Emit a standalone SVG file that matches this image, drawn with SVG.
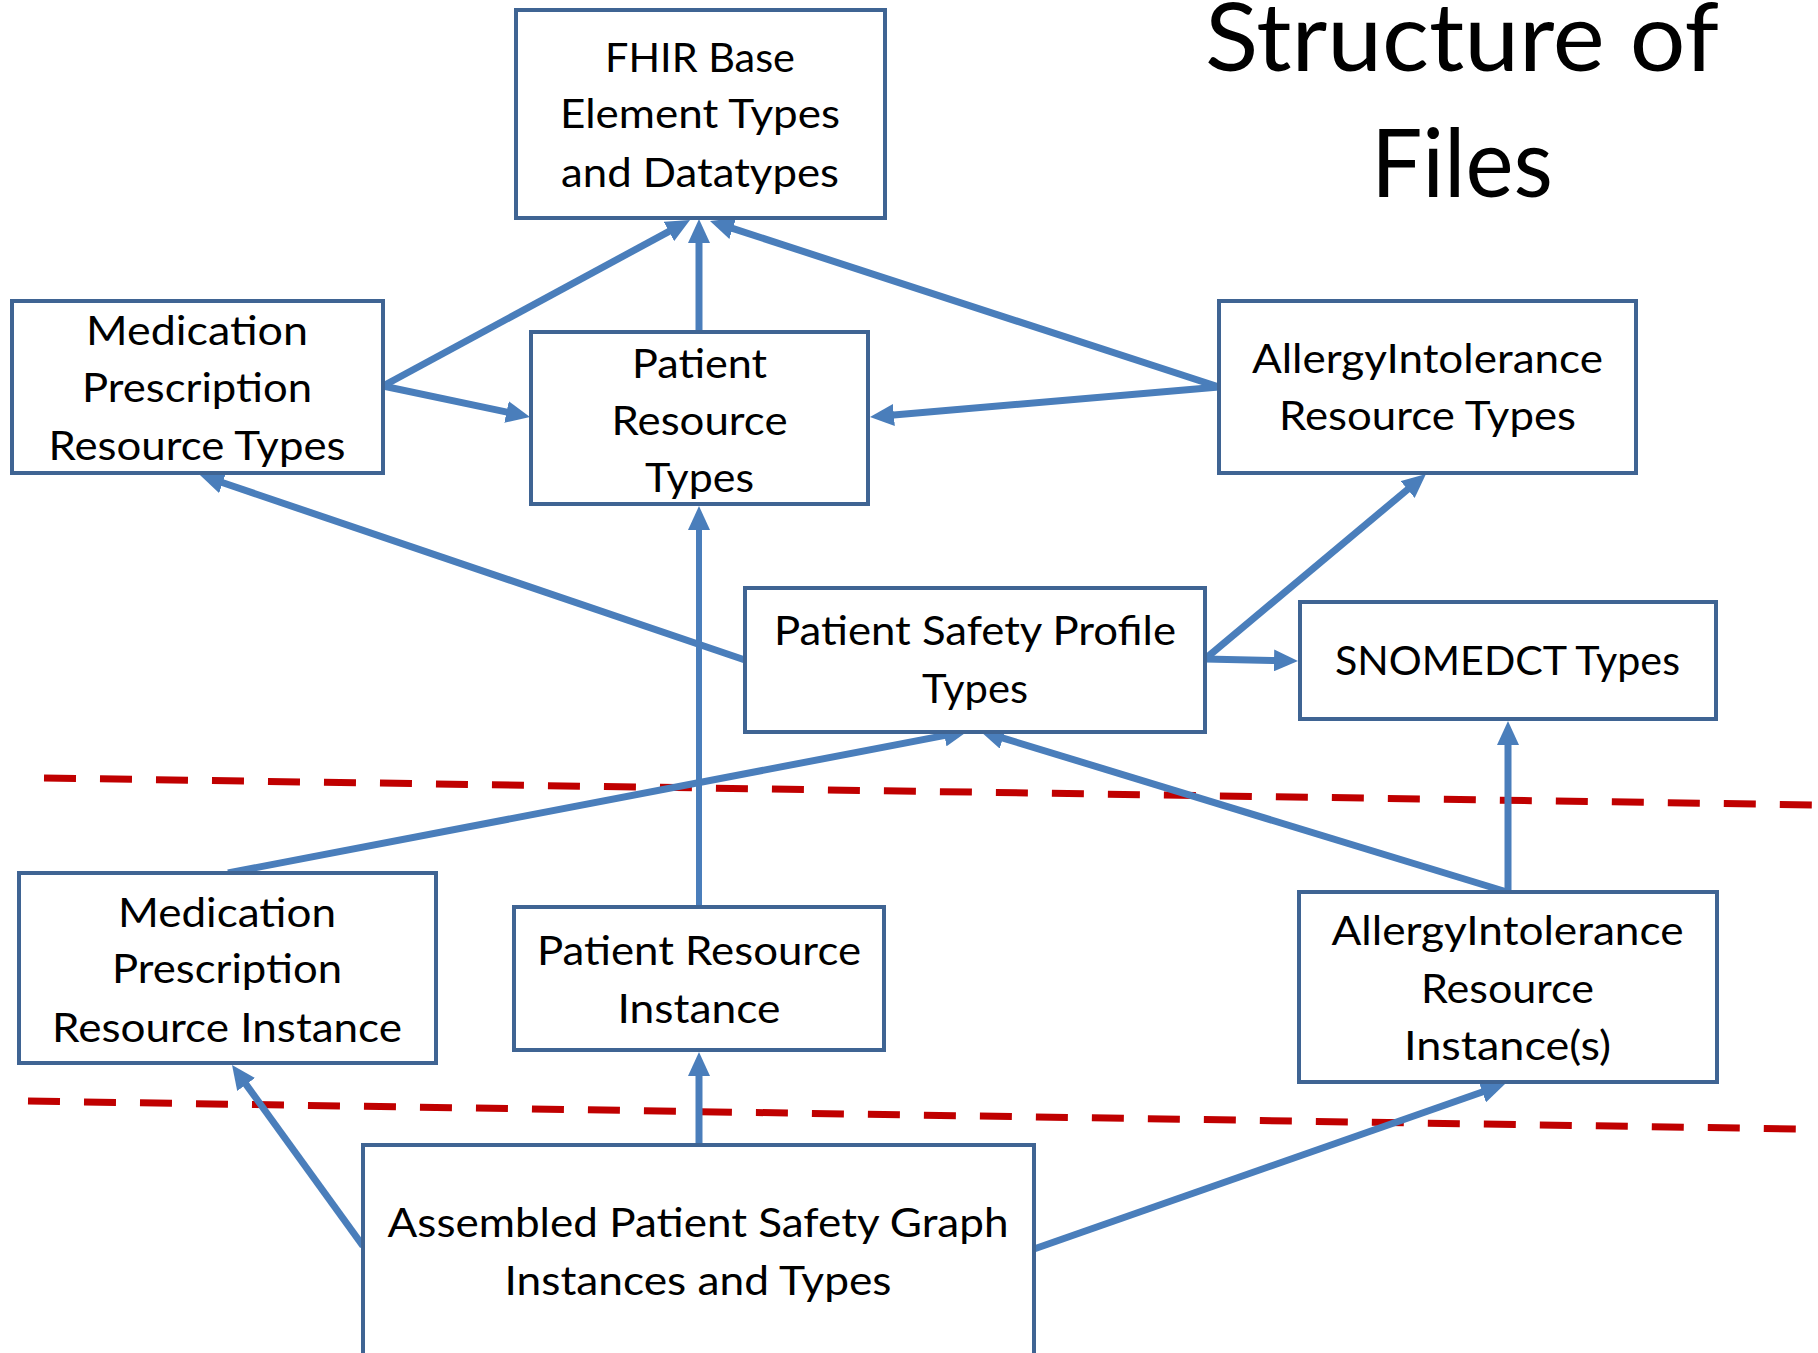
<svg xmlns="http://www.w3.org/2000/svg" width="1818" height="1353" viewBox="0 0 1818 1353">
<style>
.box{fill:#ffffff;stroke:#3F6493;stroke-width:4}
.t{font-family:Lato,"Open Sans","Liberation Sans",sans-serif;font-size:40px;fill:#000;text-anchor:middle}
.title{font-family:Lato,"Open Sans","Liberation Sans",sans-serif;font-size:95px;fill:#000;text-anchor:middle}
.c{stroke:#4A7EBB;stroke-width:7;fill:none;marker-end:url(#ah)}
.dash{stroke:#C00000;stroke-width:7;stroke-dasharray:32 24;fill:none}
</style>
<defs>
<marker id="ah" markerUnits="userSpaceOnUse" markerWidth="24" markerHeight="22" refX="6" refY="11" orient="auto">
<path d="M0,0 L24,11 L0,22 Z" fill="#4A7EBB"/>
</marker>
</defs>
<rect width="1818" height="1353" fill="#ffffff"/>
<g id="separators">
<line class="dash" x1="44" y1="778" x2="1818" y2="805"/>
<line class="dash" x1="28" y1="1101" x2="1797" y2="1129"/>
</g>
<g id="connectors">
<line class="c" x1="383" y1="386" x2="674.2" y2="228.6"/>
<line class="c" x1="699" y1="332" x2="699" y2="237"/>
<line class="c" x1="1219" y1="387" x2="727.1" y2="226.6"/>
<line class="c" x1="383" y1="386" x2="512.4" y2="413.3"/>
<line class="c" x1="1219" y1="387" x2="887.9" y2="415.5"/>
<line class="c" x1="745" y1="660" x2="217" y2="480.8"/>
<line class="c" x1="1205" y1="659" x2="1412.2" y2="485.6"/>
<line class="c" x1="1205" y1="659" x2="1280" y2="660.6"/>
<line class="c" x1="699" y1="907" x2="699" y2="524" style="stroke-width:6"/>
<line class="c" x1="228" y1="873" x2="950.3" y2="734.4"/>
<line class="c" x1="1507" y1="892" x2="997.2" y2="736.3"/>
<line class="c" x1="1508" y1="892" x2="1508" y2="739"/>
<line class="c" x1="363" y1="1246" x2="242.6" y2="1079.6"/>
<line class="c" x1="699" y1="1146" x2="699" y2="1070"/>
<line class="c" x1="1034" y1="1249" x2="1488" y2="1090"/>
</g>
<g id="title">
<text class="title" x="1462" y="71" textLength="514" lengthAdjust="spacingAndGlyphs">Structure of</text>
<text class="title" x="1462" y="197" textLength="182" lengthAdjust="spacingAndGlyphs">Files</text>
</g>
<g id="fhir">
<rect class="box" x="516" y="10" width="369" height="208"/>
<text class="t" x="700" y="72" textLength="190" lengthAdjust="spacingAndGlyphs">FHIR Base</text>
<text class="t" x="700" y="128" textLength="280" lengthAdjust="spacingAndGlyphs">Element Types</text>
<text class="t" x="700" y="187" textLength="278" lengthAdjust="spacingAndGlyphs">and Datatypes</text>
</g>
<g id="medTypes">
<rect class="box" x="12" y="301" width="371" height="172"/>
<text class="t" x="197" y="345" textLength="222" lengthAdjust="spacingAndGlyphs">Medication</text>
<text class="t" x="197" y="402" textLength="230" lengthAdjust="spacingAndGlyphs">Prescription</text>
<text class="t" x="197" y="460" textLength="297" lengthAdjust="spacingAndGlyphs">Resource Types</text>
</g>
<g id="patientTypes">
<rect class="box" x="531" y="332" width="337" height="172"/>
<text class="t" x="699.5" y="378" textLength="135" lengthAdjust="spacingAndGlyphs">Patient</text>
<text class="t" x="699.5" y="435" textLength="176" lengthAdjust="spacingAndGlyphs">Resource</text>
<text class="t" x="699.5" y="492" textLength="109" lengthAdjust="spacingAndGlyphs">Types</text>
</g>
<g id="allergyTypes">
<rect class="box" x="1219" y="301" width="417" height="172"/>
<text class="t" x="1427.5" y="373" textLength="351" lengthAdjust="spacingAndGlyphs">AllergyIntolerance</text>
<text class="t" x="1427.5" y="430" textLength="297" lengthAdjust="spacingAndGlyphs">Resource Types</text>
</g>
<g id="pspTypes">
<rect class="box" x="745" y="588" width="460" height="144"/>
<text class="t" x="975" y="645" textLength="402" lengthAdjust="spacingAndGlyphs">Patient Safety Profile</text>
<text class="t" x="975" y="703" textLength="106" lengthAdjust="spacingAndGlyphs">Types</text>
</g>
<g id="snomed">
<rect class="box" x="1300" y="602" width="416" height="117"/>
<text class="t" x="1507.5" y="675" textLength="345" lengthAdjust="spacingAndGlyphs">SNOMEDCT Types</text>
</g>
<g id="medInstance">
<rect class="box" x="19" y="873" width="417" height="190"/>
<text class="t" x="227" y="927" textLength="218" lengthAdjust="spacingAndGlyphs">Medication</text>
<text class="t" x="227" y="983" textLength="230" lengthAdjust="spacingAndGlyphs">Prescription</text>
<text class="t" x="227" y="1042" textLength="350" lengthAdjust="spacingAndGlyphs">Resource Instance</text>
</g>
<g id="patientInstance">
<rect class="box" x="514" y="907" width="370" height="143"/>
<text class="t" x="699" y="965" textLength="324" lengthAdjust="spacingAndGlyphs">Patient Resource</text>
<text class="t" x="699" y="1023" textLength="163" lengthAdjust="spacingAndGlyphs">Instance</text>
</g>
<g id="allergyInstance">
<rect class="box" x="1299" y="892" width="418" height="190"/>
<text class="t" x="1507.5" y="945" textLength="352" lengthAdjust="spacingAndGlyphs">AllergyIntolerance</text>
<text class="t" x="1507.5" y="1003" textLength="173" lengthAdjust="spacingAndGlyphs">Resource</text>
<text class="t" x="1507.5" y="1060" textLength="207" lengthAdjust="spacingAndGlyphs">Instance(s)</text>
</g>
<g id="assembled">
<rect class="box" x="363" y="1145" width="671" height="212"/>
<text class="t" x="698" y="1237" textLength="621" lengthAdjust="spacingAndGlyphs">Assembled Patient Safety Graph</text>
<text class="t" x="698" y="1295" textLength="387" lengthAdjust="spacingAndGlyphs">Instances and Types</text>
</g>
</svg>
